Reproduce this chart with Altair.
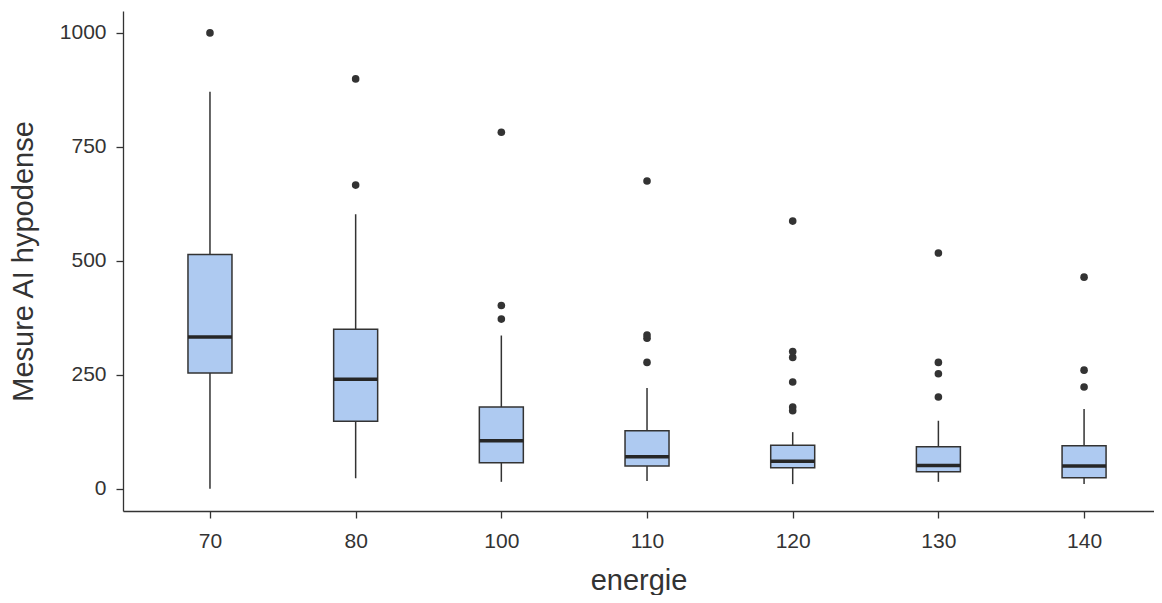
import altair as alt
import pandas as pd

# Box summary per energy level
energie = ["70", "80", "100", "110", "120", "130", "140"]
q1 = [254, 148, 57, 50, 46, 37, 24]
median = [333, 240, 105, 70, 60, 51, 50]
q3 = [514, 350, 179, 127, 95, 92, 94]
whisker_low = [0, 23, 15, 17, 10, 15, 10]
whisker_high = [871, 602, 336, 221, 124, 149, 175]

# Outliers
out_energie = ["70", "80", "80", "100", "100", "100",
               "110", "110", "110", "110",
               "120", "120", "120", "120", "120", "120",
               "130", "130", "130", "130",
               "140", "140", "140"]
out_value = [1000, 666, 899, 372, 402, 782,
             277, 330, 337, 675,
             171, 179, 234, 288, 301, 587,
             201, 252, 277, 517,
             223, 260, 464]

HALF = 0.151  # half box width, in category units

box = pd.DataFrame({"energie": energie, "q1": q1, "median": median, "q3": q3,
                    "lo": whisker_low, "hi": whisker_high})
box["idx"] = [energie.index(e) for e in box["energie"]]
box["left"] = box["idx"] - HALF
box["right"] = box["idx"] + HALF
outl = pd.DataFrame({"energie": out_energie, "value": out_value})
outl["idx"] = [energie.index(e) for e in outl["energie"]]

FONT = "Liberation Sans"
TXT = "#333333"
LINE = "#333333"
FILL = "#aecaf1"

label_expr = "[" + ",".join("'%s'" % e for e in energie) + "][datum.value]"

x_scale = alt.Scale(domain=[-0.597, 6.48], nice=False, zero=False)
x_axis = alt.Axis(title="energie", values=list(range(len(energie))), labelExpr=label_expr,
                  labelAngle=0, tickSize=7, tickColor=LINE, domainColor=LINE,
                  domainWidth=1.3, tickWidth=1.3,
                  labelFontSize=21, labelPadding=12, labelColor=TXT, labelFont=FONT,
                  titleFontSize=29, titleFont=FONT, titleColor=TXT,
                  titleFontWeight="normal", titlePadding=15, grid=False)

y_scale = alt.Scale(domain=[-49, 1048], nice=False, zero=False)
y_axis = alt.Axis(title="Mesure AI hypodense", values=[0, 250, 500, 750, 1000], format="d",
                  tickSize=7, tickColor=LINE, domainColor=LINE, domainWidth=1.3, tickWidth=1.3,
                  labelFontSize=21, labelPadding=10, labelColor=TXT, labelFont=FONT,
                  titleFontSize=29, titleFont=FONT, titleColor=TXT,
                  titleFontWeight="normal", titlePadding=21, grid=False)

base = alt.Chart(box)

whisk = base.mark_rule(color=LINE, strokeWidth=1.5).encode(
    x=alt.X("idx:Q", scale=x_scale, axis=x_axis),
    y=alt.Y("lo:Q", scale=y_scale, axis=y_axis),
    y2="hi:Q",
)

boxes = base.mark_rect(fill=FILL, stroke=LINE, strokeWidth=1.5).encode(
    x=alt.X("left:Q", scale=x_scale, axis=x_axis),
    x2="right:Q",
    y=alt.Y("q1:Q", scale=y_scale, axis=y_axis),
    y2="q3:Q",
)

med = base.mark_rule(strokeWidth=3.5, color="#262626").encode(
    x=alt.X("left:Q", scale=x_scale, axis=x_axis),
    x2="right:Q",
    y=alt.Y("median:Q", scale=y_scale, axis=y_axis),
)

pts = alt.Chart(outl).mark_circle(size=58, color="#333333", opacity=1).encode(
    x=alt.X("idx:Q", scale=x_scale, axis=x_axis),
    y=alt.Y("value:Q", scale=y_scale, axis=y_axis),
)

chart = alt.layer(whisk, boxes, med, pts).properties(
    width=1031, height=500,
    autosize=alt.AutoSizeParams(type="none"),
    padding={"left": 115, "top": 3, "right": 0, "bottom": 84},
).configure(background="white").configure_view(strokeWidth=0, stroke="transparent")

chart.save("out.html", embed_options={"renderer": "svg", "actions": False})
